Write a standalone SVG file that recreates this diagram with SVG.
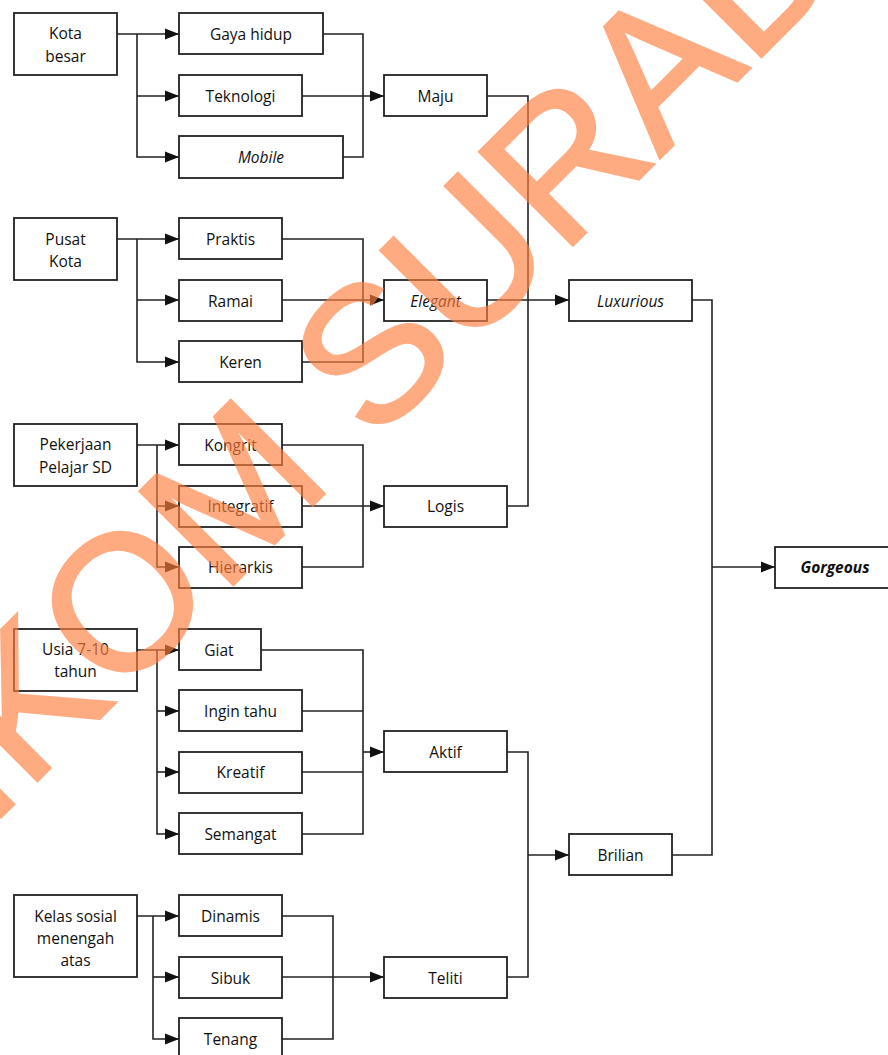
<svg xmlns="http://www.w3.org/2000/svg" width="888" height="1055" viewBox="0 0 888 1055">
<defs>
<style>
.box{fill:#fff;stroke:#222;stroke-width:1.8}
.t{font-family:"Open Sans","Liberation Sans",sans-serif;font-size:15.5px;fill:#111;text-anchor:middle}
.i{font-style:italic}
.b{font-weight:bold}
.c{fill:none;stroke:#222;stroke-width:1.6}
.wm{font-family:"Liberation Sans",Arial,sans-serif;font-size:192px;fill:#ff7f3f;stroke:#ff7f3f;stroke-width:3;stroke-linejoin:miter}
</style>
<marker id="arr" markerWidth="14" markerHeight="12" refX="14" refY="6" orient="auto" markerUnits="userSpaceOnUse">
<path d="M0,0.5 L14,6 L0,11.5 z" fill="#111"/>
</marker>
</defs>
<rect width="888" height="1055" fill="#fff"/>

<g id="connectors">
<path class="c" d="M117,34 H179" marker-end="url(#arr)"/>
<path class="c" d="M137,34 V157 H179" marker-end="url(#arr)"/>
<path class="c" d="M137,96 H179" marker-end="url(#arr)"/>
<path class="c" d="M323,34 H363 V157 H343"/>
<path class="c" d="M302,96 H384" marker-end="url(#arr)"/>

<path class="c" d="M117,239 H179" marker-end="url(#arr)"/>
<path class="c" d="M137,239 V362 H179" marker-end="url(#arr)"/>
<path class="c" d="M137,300 H179" marker-end="url(#arr)"/>
<path class="c" d="M282,239 H363 V362 H302"/>
<path class="c" d="M282,300 H384" marker-end="url(#arr)"/>

<path class="c" d="M137,445 H179" marker-end="url(#arr)"/>
<path class="c" d="M157,445 V567 H179" marker-end="url(#arr)"/>
<path class="c" d="M157,506 H179" marker-end="url(#arr)"/>
<path class="c" d="M282,445 H363 V567 H302"/>
<path class="c" d="M302,506 H384" marker-end="url(#arr)"/>

<path class="c" d="M137,650 H179" marker-end="url(#arr)"/>
<path class="c" d="M157,650 V834 H179" marker-end="url(#arr)"/>
<path class="c" d="M157,711 H179" marker-end="url(#arr)"/>
<path class="c" d="M157,772 H179" marker-end="url(#arr)"/>
<path class="c" d="M261,650 H363 V834 H302"/>
<path class="c" d="M302,711 H363"/>
<path class="c" d="M302,772 H363"/>
<path class="c" d="M363,752 H384" marker-end="url(#arr)"/>

<path class="c" d="M137,916 H179" marker-end="url(#arr)"/>
<path class="c" d="M153,916 V1039 H179" marker-end="url(#arr)"/>
<path class="c" d="M153,977 H179" marker-end="url(#arr)"/>
<path class="c" d="M282,916 H333 V1039 H282"/>
<path class="c" d="M282,977 H384" marker-end="url(#arr)"/>

<path class="c" d="M487,96 H528 V506 H507"/>
<path class="c" d="M487,300 H569" marker-end="url(#arr)"/>
<path class="c" d="M507,752 H528 V977 H507"/>
<path class="c" d="M528,855 H569" marker-end="url(#arr)"/>
<path class="c" d="M692,300 H712 V855 H672"/>
<path class="c" d="M712,567 H775" marker-end="url(#arr)"/>
</g>

<g id="kota-besar"><rect class="box" x="14" y="13" width="103" height="62"/><text class="t" x="65.5" y="39">Kota</text><text class="t" x="65.5" y="62">besar</text></g>
<g id="gaya-hidup"><rect class="box" x="179" y="13" width="144" height="41"/><text class="t" x="251" y="40">Gaya hidup</text></g>
<g id="teknologi"><rect class="box" x="179" y="75" width="123" height="41"/><text class="t" x="240.5" y="102">Teknologi</text></g>
<g id="mobile"><rect class="box" x="179" y="136" width="164" height="42"/><text class="t i" x="261" y="163">Mobile</text></g>
<g id="maju"><rect class="box" x="384" y="75" width="103" height="41"/><text class="t" x="435.5" y="102">Maju</text></g>

<g id="pusat-kota"><rect class="box" x="14" y="218" width="103" height="62"/><text class="t" x="65.5" y="245">Pusat</text><text class="t" x="65.5" y="267">Kota</text></g>
<g id="praktis"><rect class="box" x="179" y="218" width="103" height="41"/><text class="t" x="230.5" y="245">Praktis</text></g>
<g id="ramai"><rect class="box" x="179" y="280" width="103" height="41"/><text class="t" x="230.5" y="307">Ramai</text></g>
<g id="keren"><rect class="box" x="179" y="341" width="123" height="41"/><text class="t" x="240.5" y="368">Keren</text></g>
<g id="elegant"><rect class="box" x="384" y="280" width="103" height="41"/><text class="t i" x="435.5" y="307">Elegant</text></g>
<g id="luxurious"><rect class="box" x="569" y="280" width="123" height="41"/><text class="t i" x="630.5" y="307">Luxurious</text></g>

<g id="pekerjaan"><rect class="box" x="14" y="424" width="123" height="62"/><text class="t" x="75.5" y="450">Pekerjaan</text><text class="t" x="75.5" y="473">Pelajar SD</text></g>
<g id="kongrit"><rect class="box" x="179" y="424" width="103" height="41"/><text class="t" x="230.5" y="451">Kongrit</text></g>
<g id="integratif"><rect class="box" x="179" y="486" width="123" height="41"/><text class="t" x="240.5" y="512">Integratif</text></g>
<g id="hierarkis"><rect class="box" x="179" y="547" width="123" height="41"/><text class="t" x="240.5" y="573">Hierarkis</text></g>
<g id="logis"><rect class="box" x="384" y="486" width="123" height="41"/><text class="t" x="445.5" y="512">Logis</text></g>

<g id="gorgeous"><rect class="box" x="775" y="547" width="120" height="41"/><text class="t i b" x="835" y="573">Gorgeous</text></g>

<g id="usia"><rect class="box" x="14" y="629" width="123" height="62"/><text class="t" x="75.5" y="655">Usia 7-10</text><text class="t" x="75.5" y="677">tahun</text></g>
<g id="giat"><rect class="box" x="179" y="629" width="82" height="41"/><text class="t" x="219" y="656">Giat</text></g>
<g id="ingin-tahu"><rect class="box" x="179" y="690" width="123" height="41"/><text class="t" x="240.5" y="717">Ingin tahu</text></g>
<g id="kreatif"><rect class="box" x="179" y="752" width="123" height="41"/><text class="t" x="240.5" y="778">Kreatif</text></g>
<g id="semangat"><rect class="box" x="179" y="813" width="123" height="41"/><text class="t" x="240.5" y="840">Semangat</text></g>
<g id="aktif"><rect class="box" x="384" y="731" width="123" height="41"/><text class="t" x="445.5" y="758">Aktif</text></g>
<g id="brilian"><rect class="box" x="569" y="834" width="103" height="41"/><text class="t" x="620.5" y="861">Brilian</text></g>

<g id="kelas-sosial"><rect class="box" x="14" y="895" width="123" height="82"/><text class="t" x="75.5" y="922">Kelas sosial</text><text class="t" x="75.5" y="944">menengah</text><text class="t" x="75.5" y="966">atas</text></g>
<g id="dinamis"><rect class="box" x="179" y="895" width="103" height="41"/><text class="t" x="230.5" y="922">Dinamis</text></g>
<g id="sibuk"><rect class="box" x="179" y="957" width="103" height="41"/><text class="t" x="230.5" y="984">Sibuk</text></g>
<g id="tenang"><rect class="box" x="179" y="1018" width="103" height="42"/><text class="t" x="230.5" y="1045">Tenang</text></g>
<g id="teliti"><rect class="box" x="384" y="957" width="123" height="41"/><text class="t" x="445.5" y="984">Teliti</text></g>

<g id="watermark" opacity="0.65"><text class="wm" x="-185" y="1003" transform="rotate(-45 -185 1003)">STIKOM SURABAYA</text></g>
</svg>
